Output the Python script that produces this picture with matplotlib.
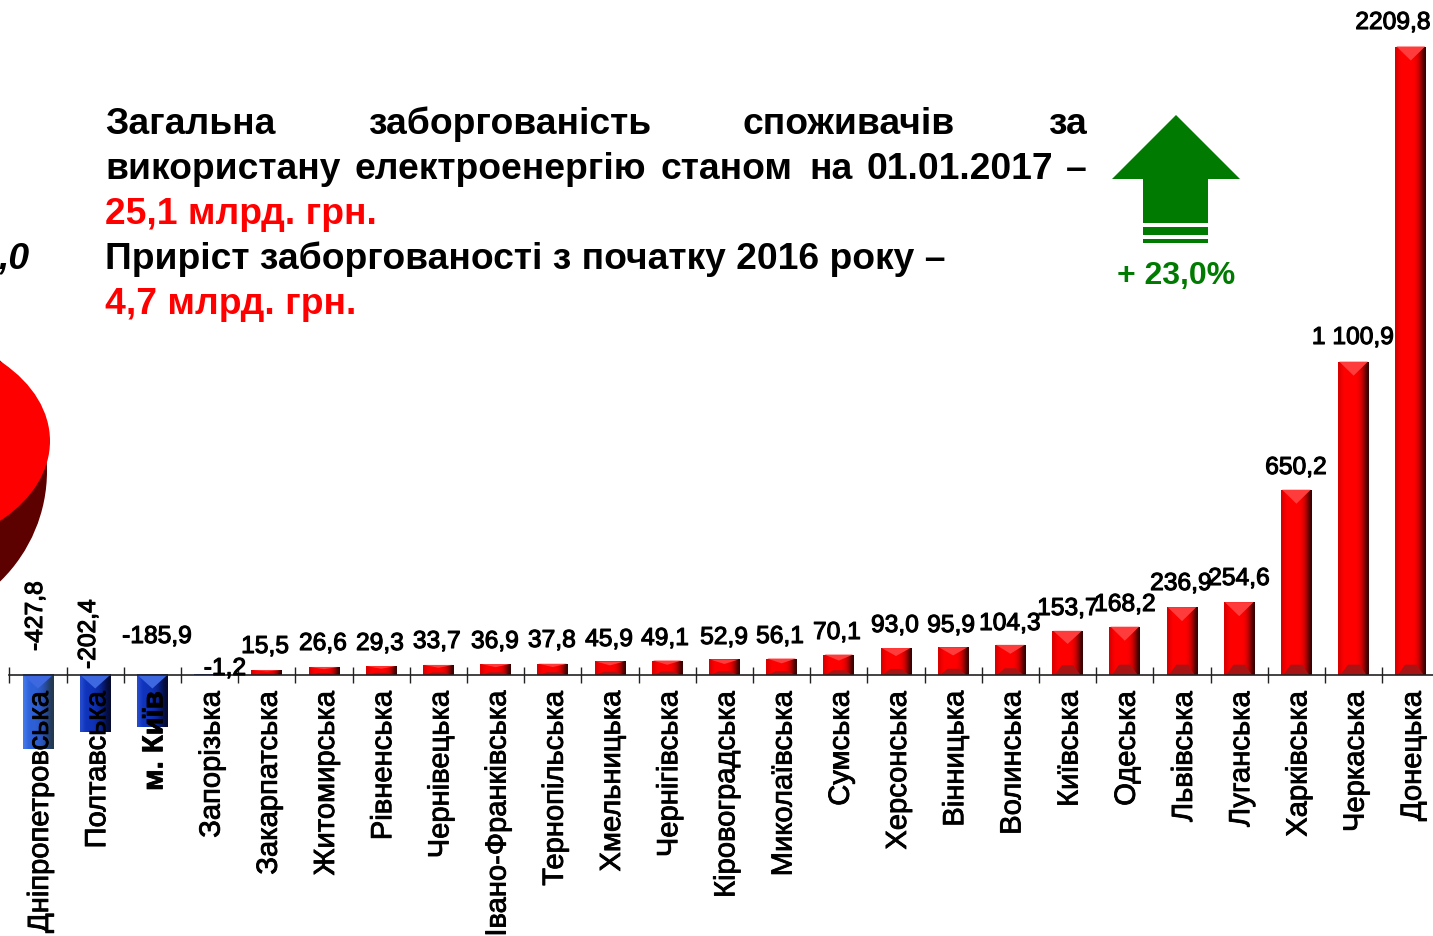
import numpy as np
import matplotlib
matplotlib.use('Agg')
import matplotlib.pyplot as plt
import matplotlib.patheffects as pe
from matplotlib.patches import Ellipse, Polygon, Rectangle
from matplotlib.transforms import Affine2D

W, H = 1433, 937
plt.rcParams['font.family'] = ['Liberation Sans', 'DejaVu Sans']

regions = ['Дніпропетровська', 'Полтавська', 'м. Київ', 'Запорізька', 'Закарпатська',
           'Житомирська', 'Рівненська', 'Чернівецька', 'Івано-Франківська', 'Тернопільська',
           'Хмельницька', 'Чернігівська', 'Кіровоградська', 'Миколаївська', 'Сумська',
           'Херсонська', 'Вінницька', 'Волинська', 'Київська', 'Одеська',
           'Львівська', 'Луганська', 'Харківська', 'Черкаська', 'Донецька']
values = [-427.8, -202.4, -185.9, -1.2, 15.5, 26.6, 29.3, 33.7, 36.9, 37.8, 45.9, 49.1, 52.9,
          56.1, 70.1, 93.0, 95.9, 104.3, 153.7, 168.2, 236.9, 254.6, 650.2, 1100.9, 2209.8]
value_labels = ['-427,8', '-202,4', '-185,9', '-1,2', '15,5', '26,6', '29,3', '33,7', '36,9',
                '37,8', '45,9', '49,1', '52,9', '56,1', '70,1', '93,0', '95,9', '104,3',
                '153,7', '168,2', '236,9', '254,6', '650,2', '1 100,9', '2209,8']
# where the value labels sit, in picture pixels
label_x = [35, 88, 157, 225, 265, 323, 380, 437, 495, 552, 609, 665, 724, 780, 837, 895, 951,
           1010, 1068, 1125, 1181, 1239, 1296, 1353, 1393]
label_y = [617, 635, 637, 669, 647, 644, 644, 642, 642, 641, 640, 639, 638, 637, 633, 626, 626,
           624, 609, 605, 584, 579, 468, 338, 23]

zero_px = 675.5
px_per_unit = 628 / 2209.8
first_px = 38
step_px = 57.2
bottom_px = 750

fig = plt.figure(figsize=(W / 100, H / 100), dpi=100)
ax = fig.add_axes([0, 1 - bottom_px / H, 1, bottom_px / H])
ax.patch.set_alpha(0)

#red and blue bars, shading comes after
x = np.arange(len(values))
colors = ['#2244c0' if v < 0 else '#ff0000' for v in values]
bars = ax.bar(x, values, width=0.54, color=colors, edgecolor='none', zorder=2)

red_grad = np.array([[[.85, 0, 0], [1, 0, 0], [1, 0, 0], [1, 0, 0], [1, 0, 0], [1, 0, 0], [.9, 0, 0], [.65, 0, 0], [.2, 0, 0]]])
blue_grad = np.array([[[.15, .30, .80], [.06, .20, .75], [.06, .20, .72], [.06, .20, .72], [.05, .18, .68],
                       [.05, .16, .62], [.03, .12, .50], [.02, .07, .32], [.02, .04, .18]]])
for i, (bar, v) in enumerate(zip(bars, values)):
    x0 = bar.get_x()
    x1 = x0 + bar.get_width()
    xm = (x0 + x1) / 2
    low = max(min(0, v), -75 / px_per_unit)
    high = max(0, v)
    grad = red_grad if v > 0 else blue_grad
    if i == 0:
        grad = np.clip(grad + [.12, .18, .12], 0, 1)
    ax.imshow(grad, extent=(x0, x1, low, high), aspect='auto', interpolation='bicubic', zorder=3)
    depth = min(14 / px_per_unit, abs(v) * 0.3)
    if v > 0:
        ax.add_patch(Polygon([(x0 + .02, v), (x1 - .02, v), (xm, v - depth)], color='#ff3c3c', lw=0, zorder=4))
        ax.add_patch(Polygon([(x0 + .05, 0), (x1 - .05, 0), (xm + .1, depth * .7), (xm - .1, depth * .7)],
                             color='#a81414', lw=0, zorder=4))
    else:
        ax.add_patch(Polygon([(x0, 0), (x1, 0), (xm, -depth)], color='#3d68e0', lw=0, zorder=4))

# limits first, the tick formatting below does not survive changing them later
ax.set_xlim(-first_px / step_px, (W - first_px) / step_px)
ax.set_ylim(-(bottom_px - zero_px) / px_per_unit, zero_px / px_per_unit)

for s in ['top', 'left', 'right']:
    ax.spines[s].set_visible(False)
ax.spines['bottom'].set_position(('data', 0))
ax.spines['bottom'].set_bounds(x[0] - 0.5, ax.get_xlim()[1])
ax.spines['bottom'].set_color('#222222')
ax.spines['bottom'].set_linewidth(1.2)
ax.spines['bottom'].set_zorder(5)
ax.set_yticks([])
ax.set_xticks(x - 0.5)
ax.tick_params(axis='x', which='major', direction='inout', length=11.5, width=1, color='#222222', labelbottom=False)
# labels sit 2 px right of the bar centres in the picture
ax.set_xticks(x + 2 / step_px, minor=True)
ax.set_xticklabels(regions, minor=True, rotation=90, ha='center', va='top', fontsize=21,
                   path_effects=[pe.withStroke(linewidth=0.6, foreground='black')])
ax.tick_params(axis='x', which='minor', length=0, pad=12)
ax.xaxis.set_zorder(6)
for tick in ax.xaxis.get_minorticklabels():
    if tick.get_text() == 'м. Київ':
        tick.set_fontweight('bold')

for i, (t, lx, ly) in enumerate(zip(value_labels, label_x, label_y)):
    ax.annotate(t, xy=(i, 0), xytext=(lx - (first_px + i * step_px), zero_px - ly),
                xycoords='data', textcoords='offset pixels', ha='center', va='center',
                fontsize=17.7, rotation=90 if i < 2 else 0, zorder=7, annotation_clip=False,
                path_effects=[pe.withStroke(linewidth=0.8, foreground='black')])

# everything below is placed in picture pixels
px = Affine2D().scale(1, -1).translate(0, H)

def word(s, x0, y0, color='black', size=26.8, **kw):
    fig.text(x0 / W, 1 - y0 / H, s, color=color, fontsize=size, fontweight='bold', va='baseline', **kw)

for s, x0 in [('Загальна', 105), ('заборгованість', 368), ('споживачів', 743), ('за', 1048)]:
    word(s, x0, 134)
for s, x0 in [('використану', 105), ('електроенергію', 355), ('станом', 661), ('на', 809),
              ('01.01.2017', 866), ('–', 1066)]:
    word(s, x0, 179)
word('25,1 млрд. грн.', 105, 224, color='#ff0000')
word('Приріст заборгованості з початку 2016 року –', 105, 269)
word('4,7 млрд. грн.', 105, 314, color='#ff0000')
word(',0', -2, 269, style='italic')

green = '#007a00'
fig.add_artist(Polygon([(1176, 116), (1240, 180), (1208, 180), (1208, 224), (1143, 224), (1143, 180), (1112, 180)],
                       closed=True, color=green, lw=0, transform=px))
fig.add_artist(Rectangle((1143, 228), 65, 8, color=green, lw=0, transform=px))
fig.add_artist(Rectangle((1143, 240), 65, 4, color=green, lw=0, transform=px))
fig.text(1176 / W, 1 - 276 / H, '+ 23,0%', color=green, fontsize=23, fontweight='bold', ha='center', va='center')

# piece of the pie chart cut off at the left edge
fig.add_artist(Ellipse((-110, 472), 314, 310, color='#5c0000', lw=0, transform=px))
fig.add_artist(Ellipse((-110, 442), 320, 220, color='#ff0000', lw=0, transform=px))

fig.savefig('out.png', dpi=100)
